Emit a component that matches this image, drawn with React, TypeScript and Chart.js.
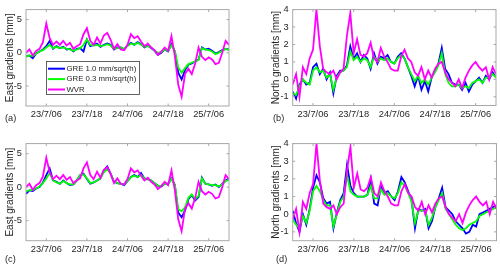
import React, { useEffect, useRef } from "react";
import { Chart, registerables } from "chart.js";
Chart.register(...registerables);

// ---------- data ----------
const hours = [
  0, 1, 2, 3, 4, 5, 6, 7, 8, 9, 10, 11, 12, 13, 14, 15, 16, 17, 18, 19, 20,
  21, 22, 23, 24, 25, 26, 27, 28, 29, 30, 31, 32, 33, 34, 35, 36, 37, 38, 39, 40,
  41, 42, 43, 44, 45, 46, 47, 48, 49, 50, 51, 52, 53, 54, 55, 56, 57, 58, 59, 60,
];
const tickHours = [6, 18, 30, 42, 54];
const tickLabels = ["23/7/06", "23/7/18", "24/7/06", "24/7/18", "25/7/06"];
const seriesLabels = ["GRE 1.0 mm/sqrt(h)", "GRE 0.3 mm/sqrt(h)", "WVR"];
const panelLabels = ["(a)", "(b)", "(c)", "(d)"];
const yTitles = ["East gradients [mm]", "North gradients [mm]"];
const eastTicks = [-5, 0, 5];
const northTicks = [-1, 0, 1, 2, 3, 4];

const wvrEast = [
  0.0, 0.5, -0.4, 0.3, 0.6, 1.6, 4.4, 2.2, 1.2, 1.7, 1.2, 1.8, 1.1, 1.5, 0.6, 1.0,
  1.3, 2.8, 3.7, 1.8, 1.2, 2.3, 1.4, 2.6, 3.0, 2.0, 0.6, 1.3, 0.5, 0.4, 1.2, 2.8,
  2.2, 2.5, 1.7, 1.0, 1.4, 0.8, 0.4, -0.3, 0.2, 0.8, 0.3, 2.5, -0.5, -4.8, -6.6,
  -3.2, -2.4, -3.2, -1.6, 0.8, -0.6, -1.1, -0.7, -1.0, -1.7, -1.5, 0.0, 1.8, 1.2,
];
const gre10EastA = [
  -0.5, -0.4, -0.8, -0.1, 0.2, 0.5, 1.0, 1.8, 0.6, 1.0, 0.7, 0.9, 0.5, 0.6, 0.2,
  0.6, 0.7, 0.2, 2.0, 1.0, 1.2, 1.4, 0.9, 1.2, 1.4, 1.2, 0.5, 0.8, 0.8, 0.5, 1.1,
  1.5, 1.2, 1.6, 1.3, 0.8, 1.1, 0.7, 0.3, -0.3, 0.0, 0.5, 0.2, 1.3, 0.2, -3.0,
  -4.0, -2.6, -1.8, -1.6, -1.3, -1.0, 0.8, 0.5, 0.6, 0.3, -0.1, 0.1, 0.4, 0.6, 0.5,
];
const gre03EastA = [
  -0.6, -0.4, -0.5, -0.1, 0.2, 0.4, 0.8, 1.2, 0.7, 0.9, 0.7, 0.8, 0.6, 0.5, 0.3,
  0.5, 0.7, 1.2, 2.0, 1.2, 1.1, 1.2, 1.0, 1.1, 1.3, 1.1, 0.6, 0.7, 0.8, 0.6, 1.0,
  1.4, 1.2, 1.5, 1.2, 0.9, 1.0, 0.8, 0.3, 0.0, 0.1, 0.5, 0.3, 1.1, 0.3, -2.2,
  -3.0, -2.3, -1.7, -1.5, -1.3, -1.1, 0.7, 0.5, 0.4, 0.2, -0.2, 0.0, 0.3, 0.6, 0.4,
];
const wvrNorth = [
  -0.3, 0.3, -1.0, 0.7, 0.3, 1.2, 1.7, 4.0, 1.9, 0.6, 0.4, 0.3, 0.5, 0.0, 0.4,
  0.6, 2.5, 3.8, 1.5, 2.3, 1.4, 1.3, 1.5, 2.1, 1.2, 1.0, 1.8, 1.3, 1.0, 0.6, 0.5,
  0.5, 1.3, 1.7, 1.2, 1.0, 0.4, 0.2, 0.7, 0.0, 0.5, 0.1, 0.6, 0.9, 1.0, 0.4, 0.0,
  -0.2, -0.4, 0.0, -0.5, 0.1, 0.5, 0.8, 1.0, 0.7, 0.5, 0.7, 0.0, 0.7, 0.3,
];
const gre10NorthB = [
  -0.7, -1.1, -0.3, 0.0, -0.3, -0.2, 0.7, 0.9, 0.3, 0.6, 0.0, 0.4, -0.8, 0.2, 0.5,
  0.5, 0.8, 1.9, 1.2, 1.5, 1.0, 1.4, 1.2, 0.6, 1.5, 0.9, 1.3, 1.2, 1.4, 1.0, 0.9,
  1.3, 1.5, 1.2, 0.7, 0.2, -0.4, 0.2, -0.6, -0.1, -0.7, 0.1, 0.5, 0.9, 1.8, 0.6,
  0.3, -0.2, -0.3, -0.3, -0.6, -0.2, -0.7, -0.3, -0.1, 0.1, -0.2, 0.2, 0.0, 0.4, 0.1,
];
const gre03NorthB = [
  -0.8, -0.9, -0.4, 0.0, -0.2, -0.3, 0.5, 0.7, 0.4, 0.5, 0.1, 0.3, -0.6, 0.1, 0.4,
  0.5, 0.7, 1.6, 1.1, 1.3, 1.0, 1.2, 1.1, 0.7, 1.3, 1.0, 1.2, 1.1, 1.2, 1.0, 0.9,
  1.2, 1.4, 1.2, 0.7, 0.3, -0.1, 0.2, -0.2, 0.0, -0.3, 0.1, 0.4, 0.8, 1.5, 0.3,
  -0.2, -0.4, -0.4, -0.3, -0.5, -0.4, -0.5, -0.2, -0.1, 0.0, -0.2, 0.1, 0.1, 0.3, 0.1,
];
const gre10EastC = [
  -1.0, -0.5, -0.6, -0.2, 0.0, 0.7, 1.8, 2.8, 1.0, 0.8, 0.5, 1.0, 0.6, 0.3, 0.4,
  1.0, 1.8, 2.0, 1.2, 0.5, 0.7, 1.0, 1.3, 2.5, 3.1, 2.0, 0.8, 0.6, 0.5, 0.3, 0.9,
  1.5, 1.8, 1.5, 2.1, 1.3, 1.2, 1.0, 0.6, 0.2, 0.1, 0.5, 0.5, 1.3, 0.3, -3.8,
  -4.5, -3.5, -1.8, -1.2, -2.0, -1.5, 1.4, 0.5, 0.4, 0.2, 0.4, 0.0, 0.5, 1.0, 1.3,
];
const gre03EastC = [
  -0.6, -0.5, -0.4, -0.2, 0.1, 0.6, 1.3, 2.1, 1.0, 0.7, 0.5, 0.9, 0.6, 0.4, 0.4,
  1.0, 1.8, 1.9, 1.3, 0.6, 0.7, 1.0, 1.3, 2.2, 2.7, 2.0, 0.9, 0.6, 0.5, 0.4, 0.9,
  1.5, 1.7, 1.5, 1.8, 1.3, 1.1, 1.0, 0.6, 0.2, 0.2, 0.5, 0.4, 1.2, 0.3, -3.3,
  -3.6, -3.0, -1.6, -1.1, -1.8, -1.3, 1.3, 0.5, 0.4, 0.3, 0.3, 0.1, 0.4, 0.9, 1.1,
];
const gre10NorthD = [
  0.2, -0.5, -1.0, 0.0, -0.6, 0.3, 1.5, 2.2, 1.8, 0.9, 0.6, 0.7, -0.8, 0.1, 0.8,
  1.2, 2.8, 1.6, 1.2, 1.0, 1.0, 1.0, 1.1, 2.0, 0.6, 0.5, 1.6, 1.2, 1.3, 1.0, 0.8,
  1.3, 2.1, 1.8, 1.3, 0.8, -0.8, 0.3, 0.2, 0.3, -0.8, -0.4, 0.4, 0.9, 1.5, 0.4,
  0.2, 0.0, -0.4, -0.6, -0.8, -1.1, -1.0, -0.6, -0.7, 0.0, 0.1, 0.2, 0.3, 0.4, 0.5,
];
const gre03NorthD = [
  -0.3, -0.6, -0.8, -0.1, -0.5, 0.2, 1.3, 1.6, 1.3, 0.8, 0.5, 0.5, -0.7, 0.0, 0.7,
  1.0, 2.2, 1.3, 1.1, 1.0, 1.0, 1.0, 1.1, 1.6, 0.9, 0.9, 1.4, 1.1, 1.2, 1.0, 0.9,
  1.2, 1.8, 1.6, 1.2, 0.7, -0.5, 0.2, 0.2, 0.2, -0.6, -0.2, 0.4, 0.8, 1.2, 0.3,
  0.0, -0.3, -0.6, -0.8, -0.9, -0.8, -0.6, -0.5, -0.4, -0.1, 0.0, 0.1, 0.2, 0.3, 0.4,
];

// ---------- styling / layout ----------
const FONT = '"Liberation Sans", Arial, Helvetica, sans-serif';
const COLORS = ["#0000ff", "#00ff00", "#ff00ff"];
const TEXT = "#262626";
const FRAME = "#a8a8a8";

type Spec = {
  x: number; y: number; w: number; h: number;
  area: { l: number; t: number; r: number; b: number };
  padL: number;
  label: string; lx: number; ly: number;
  yTitle: string; yMin: number; yMax: number; yTicks: number[];
  series: number[][];
  legend: boolean;
};

const specs: Spec[] = [
  {
    x: 0, y: 0, w: 250, h: 134, area: { l: 26, t: 5, r: 229, b: 106 }, padL: 0,
    label: panelLabels[0], lx: 5, ly: 118,
    yTitle: yTitles[0], yMin: -8, yMax: 6.5, yTicks: eastTicks,
    series: [gre10EastA, gre03EastA, wvrEast], legend: true,
  },
  {
    x: 250, y: 0, w: 250, h: 134, area: { l: 42.7, t: 6, r: 246, b: 105.5 }, padL: 16,
    label: panelLabels[1], lx: 23, ly: 118,
    yTitle: yTitles[1], yMin: -1.5, yMax: 4, yTicks: northTicks,
    series: [gre10NorthB, gre03NorthB, wvrNorth], legend: false,
  },
  {
    x: 0, y: 134, w: 250, h: 133, area: { l: 26, t: 6.7, r: 229, b: 106.7 }, padL: 0,
    label: panelLabels[2], lx: 5, ly: 125,
    yTitle: yTitles[0], yMin: -8, yMax: 6.5, yTicks: eastTicks,
    series: [gre10EastC, gre03EastC, wvrEast], legend: false,
  },
  {
    x: 250, y: 134, w: 250, h: 133, area: { l: 42.7, t: 9, r: 246.5, b: 106.7 }, padL: 16,
    label: panelLabels[3], lx: 26, ly: 125,
    yTitle: yTitles[1], yMin: -1.5, yMax: 4, yTicks: northTicks,
    series: [gre10NorthD, gre03NorthD, wvrNorth], legend: false,
  },
];

function Panel({ spec }: { spec: Spec }) {
  const ref = useRef<HTMLCanvasElement>(null);
  useEffect(() => {
    const canvas = ref.current;
    if (!canvas) return;
    const { area } = spec;

    const framePlugin = {
      id: "frameDecor",
      afterDatasetsDraw(chart: any) {
        const { ctx, chartArea } = chart;
        const { left, top, right, bottom } = chartArea;
        const xs = chart.scales.x;
        const ys = chart.scales.y;
        ctx.save();
        ctx.strokeStyle = FRAME;
        ctx.lineWidth = 1;
        ctx.strokeRect(left, top, right - left, bottom - top);
        ctx.beginPath();
        xs.ticks.forEach((t: any) => {
          const px = xs.getPixelForValue(t.value);
          ctx.moveTo(px, bottom);
          ctx.lineTo(px, bottom - 2.5);
          ctx.moveTo(px, top);
          ctx.lineTo(px, top + 2.5);
        });
        ys.ticks.forEach((t: any) => {
          const py = ys.getPixelForValue(t.value);
          ctx.moveTo(left, py);
          ctx.lineTo(left + 2.5, py);
          ctx.moveTo(right, py);
          ctx.lineTo(right - 2.5, py);
        });
        ctx.stroke();

        ctx.fillStyle = TEXT;
        ctx.font = `9.2px ${FONT}`;
        ctx.textAlign = "left";
        ctx.textBaseline = "middle";
        ctx.fillText(spec.label, spec.lx, spec.ly);

        if (spec.legend) {
          const bx = 46, by = 61, bw = 93, bh = 33;
          ctx.fillStyle = "#ffffff";
          ctx.fillRect(bx, by, bw, bh);
          ctx.strokeStyle = "#3a3a3a";
          ctx.lineWidth = 0.8;
          ctx.strokeRect(bx + 0.5, by + 0.5, bw, bh);
          ctx.font = `7.8px ${FONT}`;
          chart.data.datasets.forEach((ds: any, i: number) => {
            const ly = 68.7 + i * 10.4;
            ctx.strokeStyle = ds.borderColor;
            ctx.lineWidth = 2;
            ctx.beginPath();
            ctx.moveTo(48, ly);
            ctx.lineTo(65, ly);
            ctx.stroke();
            ctx.fillStyle = TEXT;
            ctx.fillText(ds.label, 66.5, ly);
          });
        }
        ctx.restore();
      },
    };

    const chart = new Chart(canvas, {
      type: "line",
      data: {
        datasets: spec.series.map((vals, i) => ({
          label: seriesLabels[i],
          data: hours.map((h, k) => ({ x: h, y: vals[k] })),
          borderColor: COLORS[i],
          backgroundColor: COLORS[i],
          borderWidth: 1.8,
          pointRadius: 0,
          tension: 0,
          fill: false,
          order: 3 - i,
        })),
      },
      options: {
        animation: false,
        responsive: false,
        maintainAspectRatio: false,
        events: [],
        layout: {
          padding: { left: spec.padL, top: area.t, right: spec.w - area.r, bottom: 0 },
        },
        plugins: {
          legend: { display: false },
          tooltip: { enabled: false },
          title: { display: false },
        },
        scales: {
          x: {
            type: "linear",
            min: 0,
            max: 60,
            grid: { display: false, drawTicks: false },
            border: { display: false },
            afterBuildTicks: (s: any) => {
              s.ticks = tickHours.map((v) => ({ value: v }));
            },
            afterFit: (s: any) => {
              s.height = spec.h - area.b;
            },
            ticks: {
              autoSkip: false,
              maxRotation: 0,
              minRotation: 0,
              padding: 3,
              color: TEXT,
              font: { family: FONT, size: 9.3 },
              callback: (v: any) => {
                const idx = tickHours.indexOf(Number(v));
                return idx >= 0 ? tickLabels[idx] : "";
              },
            },
          },
          y: {
            type: "linear",
            min: spec.yMin,
            max: spec.yMax,
            grid: { display: false, drawTicks: false },
            border: { display: false },
            afterBuildTicks: (s: any) => {
              s.ticks = spec.yTicks.map((v) => ({ value: v }));
            },
            afterFit: (s: any) => {
              s.width = area.l - spec.padL;
            },
            ticks: {
              padding: 4,
              color: TEXT,
              font: { family: FONT, size: 9.3 },
              callback: (v: any) => String(v),
            },
            title: {
              display: true,
              text: spec.yTitle,
              color: TEXT,
              font: { family: FONT, size: 10 },
              padding: { top: 4, bottom: 0 },
            },
          },
        },
      } as any,
      plugins: [framePlugin],
    });
    return () => chart.destroy();
  }, [spec]);

  return (
    <canvas
      ref={ref}
      width={spec.w}
      height={spec.h}
      style={{ position: "absolute", left: spec.x, top: spec.y, width: spec.w, height: spec.h }}
    />
  );
}

export default function App() {
  return (
    <div
      style={{
        position: "absolute",
        left: 0,
        top: 0,
        width: 500,
        height: 267,
        background: "#ffffff",
        overflow: "hidden",
      }}
    >
      {specs.map((s, i) => (
        <Panel key={i} spec={s} />
      ))}
    </div>
  );
}
